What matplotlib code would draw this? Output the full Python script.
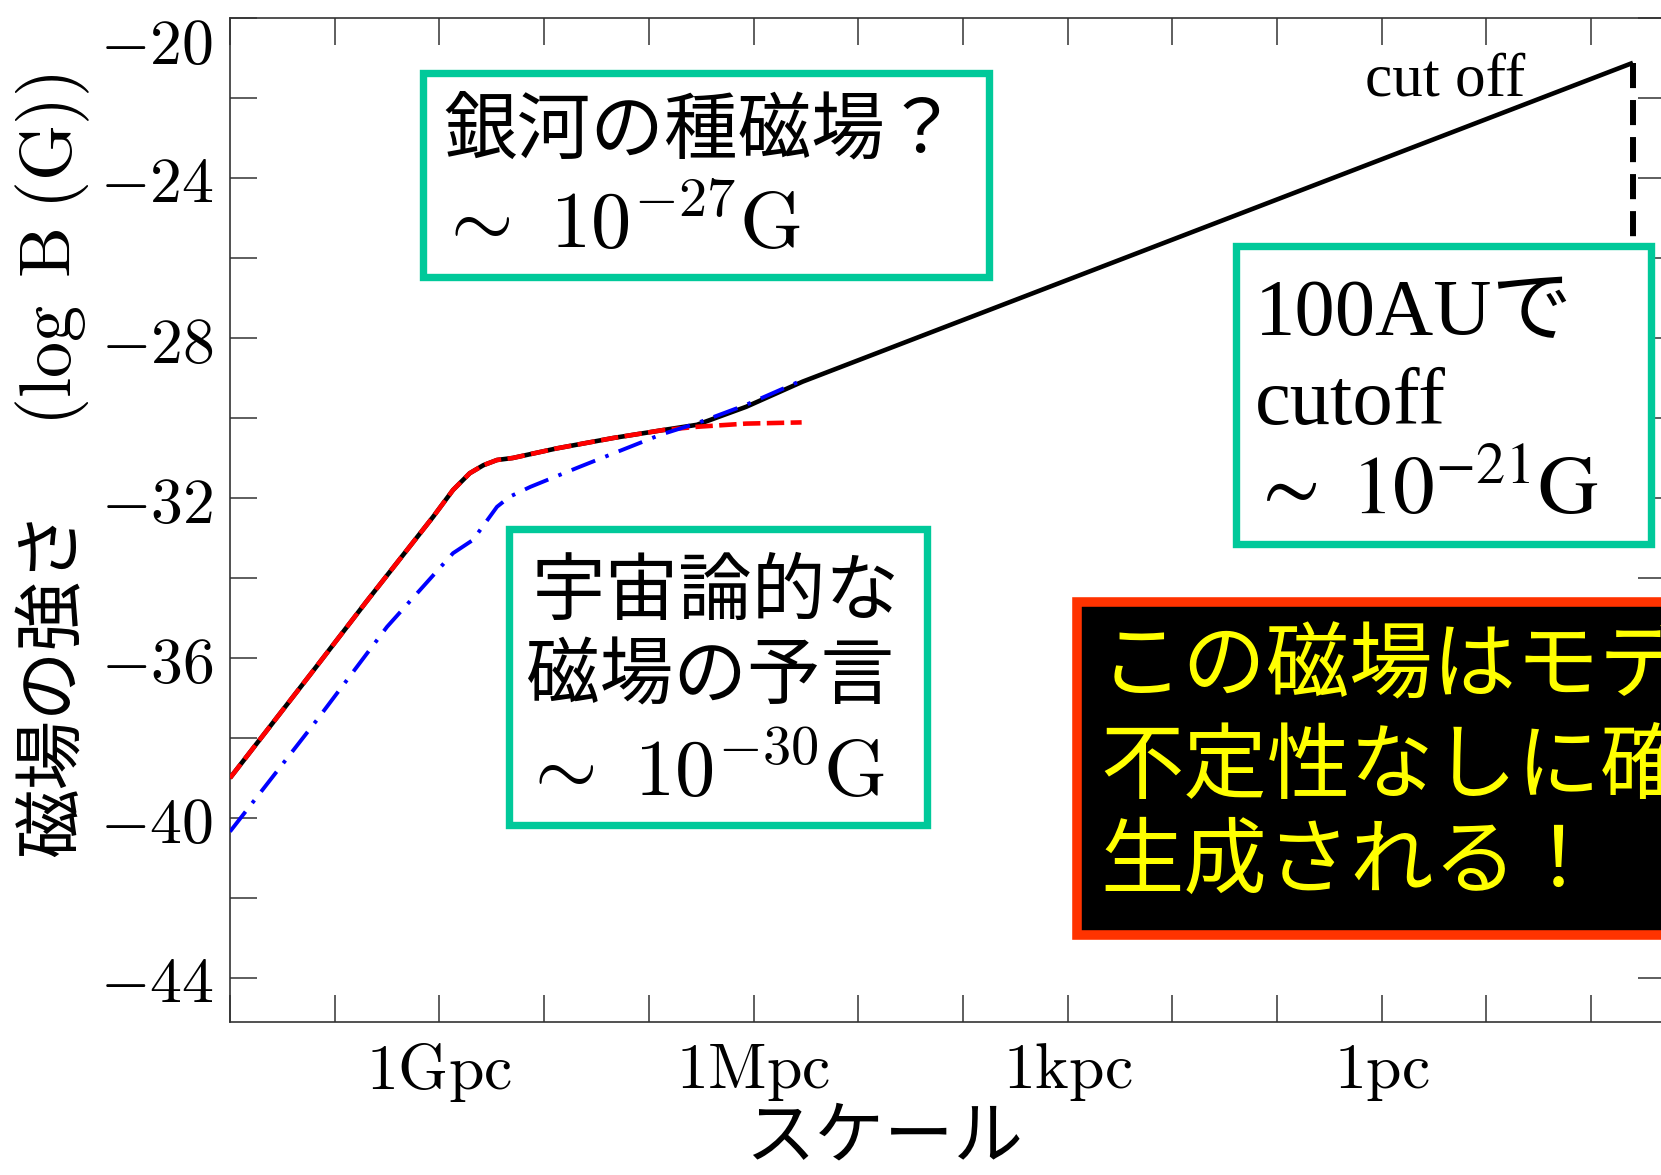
import matplotlib
matplotlib.use("Agg")
import matplotlib.pyplot as plt
from matplotlib.patches import Rectangle
from matplotlib.ticker import FixedLocator, FixedFormatter
from matplotlib.transforms import Affine2D

W, H = 1661, 1175
CJK = ["Noto Sans CJK JP", "DejaVu Sans"]
SERIF = ["Liberation Serif", "Noto Sans CJK JP", "DejaVu Sans"]
TEAL = "#00c99a"
RED_EDGE = "#ff3300"

# x: -log10(L / pc), so 0 is 1 pc and -9 is 1 Gpc; y: log10(B / G)
scale_total = [-11.0, -10.2, -9.7, -9.06, -8.87, -8.71, -8.58, -8.45, -8.3, -7.88,
               -7.34, -6.86, -6.54, -6.07, -5.53, 2.40]
logB_total = [-39.0, -36.3, -34.6, -32.47, -31.8, -31.38, -31.18, -31.05, -31.0, -30.76,
              -30.5, -30.3, -30.17, -29.72, -29.09, -21.12]

scale_red = [-11.0, -10.2, -9.7, -9.06, -8.87, -8.71, -8.58, -8.45, -8.3, -7.88,
             -7.34, -6.86, -6.54, -6.07, -5.54]
logB_red = [-39.0, -36.3, -34.6, -32.47, -31.8, -31.38, -31.18, -31.05, -31.0, -30.76,
            -30.5, -30.3, -30.22, -30.14, -30.11]

scale_blue = [-11.0, -10.17, -9.50, -8.87, -8.68, -8.45, -8.33, -8.13, -7.66,
              -6.89, -6.54, -6.07, -5.53]
logB_blue = [-40.34, -37.55, -35.22, -33.38, -33.05, -32.22, -31.97, -31.72, -31.22,
             -30.42, -30.13, -29.67, -29.05]

cutoff_scale = 2.40
cutoff_logB = -21.12
cutoff_bottom = -28.0

scale_ticks = list(range(-11, 3))
scale_labels = {-9: "1Gpc", -6: "1Mpc", -3: "1kpc", 0: "1pc"}
logB_ticks = list(range(-44, -19, 2))
logB_labels = [-44, -40, -36, -32, -28, -24]
logB_top = -20

plt.rcParams["mathtext.fontset"] = "cm"

fig = plt.figure(figsize=(W / 100, H / 100), dpi=100)
# pixel coordinates measured from the top-left corner
pix = Affine2D().scale(1, -1).translate(0, H)

ax_left, ax_right, ax_top, ax_bottom = 230, 1665, 18, 1022
ax = fig.add_axes([ax_left / W, 1 - ax_bottom / H,
                   (ax_right - ax_left) / W, (ax_bottom - ax_top) / H])

ax.plot(scale_total, logB_total, color="black", lw=3.3, solid_capstyle="butt",
        solid_joinstyle="round", zorder=3)
ax.plot(scale_red, logB_red, color="red", lw=3.3, dashes=(3.8, 1.4), zorder=4)
ax.plot(scale_blue, logB_blue, color="blue", lw=2.8, dashes=(6.5, 2.8, 0.9, 2.8), zorder=5)
ax.plot([cutoff_scale, cutoff_scale], [cutoff_logB, cutoff_bottom], color="black",
        lw=4.3, dashes=(4.2, 2.0), zorder=3)

ax.set_xlim(-11, -11 + (ax_right - ax_left) / 104.7)
ax.set_ylim(-45.1, -20)

ax.xaxis.set_major_locator(FixedLocator(scale_ticks))
ax.xaxis.set_major_formatter(FixedFormatter(
    [r"$\mathrm{%s}$" % scale_labels[t] if t in scale_labels else "" for t in scale_ticks]))
ax.yaxis.set_major_locator(FixedLocator(logB_ticks))
ax.yaxis.set_major_formatter(FixedFormatter(
    [r"$%d$" % t if t in logB_labels else "" for t in logB_ticks]))

ax.tick_params(direction="in", length=19.5, width=1.1, color="#333333",
               top=True, right=True, labelsize=46)
ax.tick_params(axis="y", pad=12)
ax.tick_params(axis="x", pad=14)
for s in ax.spines.values():
    s.set_linewidth(1.2)
    s.set_color("#333333")

# the top label hangs just below the frame edge
ax.annotate(r"$%d$" % logB_top, xy=(0, logB_top), xycoords=("axes fraction", "data"),
            xytext=(-12, 2), textcoords="offset points", ha="right", va="top", fontsize=46)

# axis titles
fig.text(53, 683, "磁場の強さ", transform=pix, rotation=90, ha="center", va="center",
         fontsize=50, family=CJK)
fig.text(53, 250, r"$(\log\;\mathrm{B}\;(\mathrm{G}))$", transform=pix, rotation=90,
         ha="center", va="center", fontsize=52)
fig.text(884, 1138, "スケール", transform=pix, ha="center", va="center",
         fontsize=50, family=CJK)

ax.text(1.37, -21.93, "cut off", ha="right", va="baseline", fontsize=44, family=SERIF,
        zorder=6)


def box(x0, y0, x1, y1, edge, face, lw):
    fig.add_artist(Rectangle((x0, y0), x1 - x0, y1 - y0, transform=pix, facecolor=face,
                             edgecolor=edge, linewidth=lw, joinstyle="miter"))


box(423, 72.5, 989, 277, TEAL, "white", 5.3)
fig.text(443, 132, "銀河の種磁場？", transform=pix, va="center", fontsize=53, family=CJK)
fig.text(436, 248, r"$\sim\ 10^{-27}\mathrm{G}$", transform=pix, va="baseline", fontsize=58)

box(509, 529, 926.5, 825, TEAL, "white", 5.3)
fig.text(532, 593, "宇宙論的な", transform=pix, va="center", fontsize=53, family=CJK)
fig.text(526, 678, "磁場の予言", transform=pix, va="center", fontsize=53, family=CJK)
fig.text(520, 796, r"$\sim\ 10^{-30}\mathrm{G}$", transform=pix, va="baseline", fontsize=58)

box(1235.7, 246.3, 1651, 544, TEAL, "white", 5.3)
fig.text(1255, 335, "100AUで", transform=pix, va="baseline", fontsize=58, family=SERIF)
fig.text(1255, 424, "cutoff", transform=pix, va="baseline", fontsize=58, family=SERIF)
fig.text(1250, 514, r"$\sim\ 10^{-21}\mathrm{G}$", transform=pix, va="baseline",
         fontsize=60, math_fontfamily="stix")

box(1076.8, 602, 1720, 935, RED_EDGE, "black", 6.9)
for y, line in zip([667, 768, 863], ["この磁場はモデルの", "不定性なしに確実に", "生成される！"]):
    fig.text(1100, y, line, transform=pix, va="center", fontsize=60, family=CJK,
             color="#ffff00")

fig.savefig("out.png", dpi=100)
